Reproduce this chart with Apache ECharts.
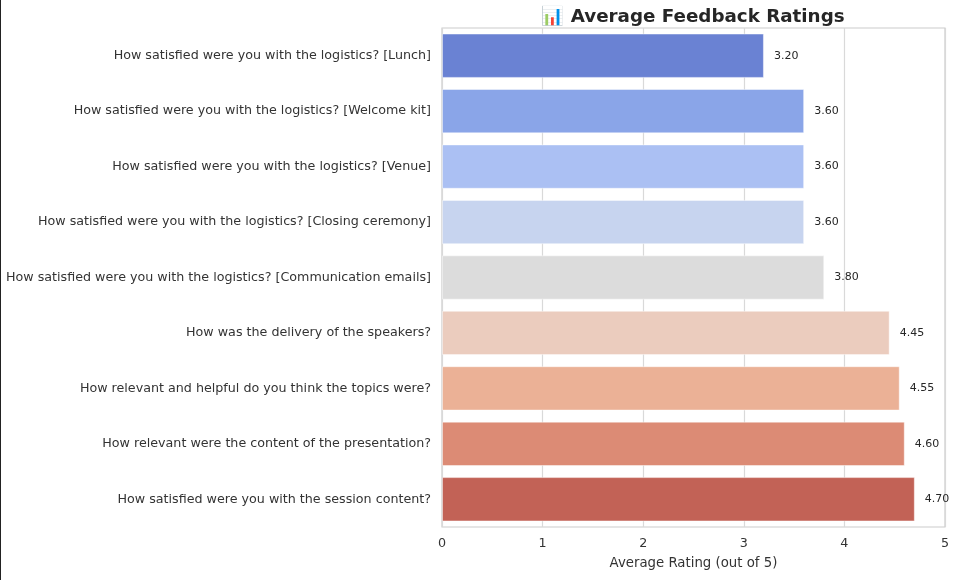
<!DOCTYPE html>
<html>
<head>
<meta charset="utf-8">
<script src="https://cdn.jsdelivr.net/npm/echarts@6/dist/echarts.min.js"></script>
<style>
  html, body { margin: 0; padding: 0; background: #fff; }
  #chart { width: 958px; height: 580px; box-sizing: border-box; border-left: 1.5px solid #222; }
</style>
</head>
<body>
<div id="chart"></div>
<script>
const categories = [
  "How satisfied were you with the logistics? [Lunch]",
  "How satisfied were you with the logistics? [Welcome kit]",
  "How satisfied were you with the logistics? [Venue]",
  "How satisfied were you with the logistics? [Closing ceremony]",
  "How satisfied were you with the logistics? [Communication emails]",
  "How was the delivery of the speakers?",
  "How relevant and helpful do you think the topics were?",
  "How relevant were the content of the presentation?",
  "How satisfied were you with the session content?"
];
const ratings = [3.20, 3.60, 3.60, 3.60, 3.80, 4.45, 4.55, 4.60, 4.70];
const barColors = ["#6a82d3", "#8aa5e8", "#abc0f3", "#c7d4ef", "#dcdcdc", "#ebccbe", "#ebb196", "#dc8b75", "#c26256"];
const xTicks = [0, 1, 2, 3, 4, 5];

const chart = echarts.init(document.getElementById('chart'));
const font = "DejaVu Sans";
chart.setOption({
  backgroundColor: '#fff',
  animation: false,
  title: {
    text: '📊 Average Feedback Ratings',
    left: 687, top: 3, textAlign: 'center',
    textStyle: { fontFamily: font, fontWeight: 'bold', fontSize: 18.3, color: '#262626' }
  },
  grid: { left: 441, right: 13, top: 28, bottom: 53, show: true, borderColor: '#cccccc', borderWidth: 1.2, backgroundColor: '#fff' },
  xAxis: {
    type: 'value', min: xTicks[0], max: xTicks[xTicks.length - 1], interval: 1,
    name: 'Average Rating (out of 5)', nameLocation: 'middle', nameGap: 30,
    nameTextStyle: { fontFamily: font, fontSize: 13.3, color: '#333333' },
    axisLine: { show: false }, axisTick: { show: false },
    axisLabel: { fontFamily: font, fontSize: 12.7, color: '#333333', margin: 10 },
    splitLine: { show: true, lineStyle: { color: '#d9d9d9', width: 1.2 } }
  },
  yAxis: {
    type: 'category', data: categories, inverse: true,
    axisLine: { show: false }, axisTick: { show: false },
    axisLabel: { fontFamily: font, fontSize: 12.7, color: '#333333', margin: 11 },
    splitLine: { show: false }
  },
  series: [{
    type: 'bar',
    data: ratings.map((v, i) => ({ value: v, itemStyle: { color: barColors[i] } })),
    barCategoryGap: '20%',
    itemStyle: { borderColor: 'rgba(255,255,255,0.45)', borderWidth: 1 },
    label: {
      show: true, position: 'right', distance: 10,
      formatter: p => p.value.toFixed(2),
      fontFamily: font, fontSize: 11, color: '#262626'
    }
  }]
});
</script>
</body>
</html>
